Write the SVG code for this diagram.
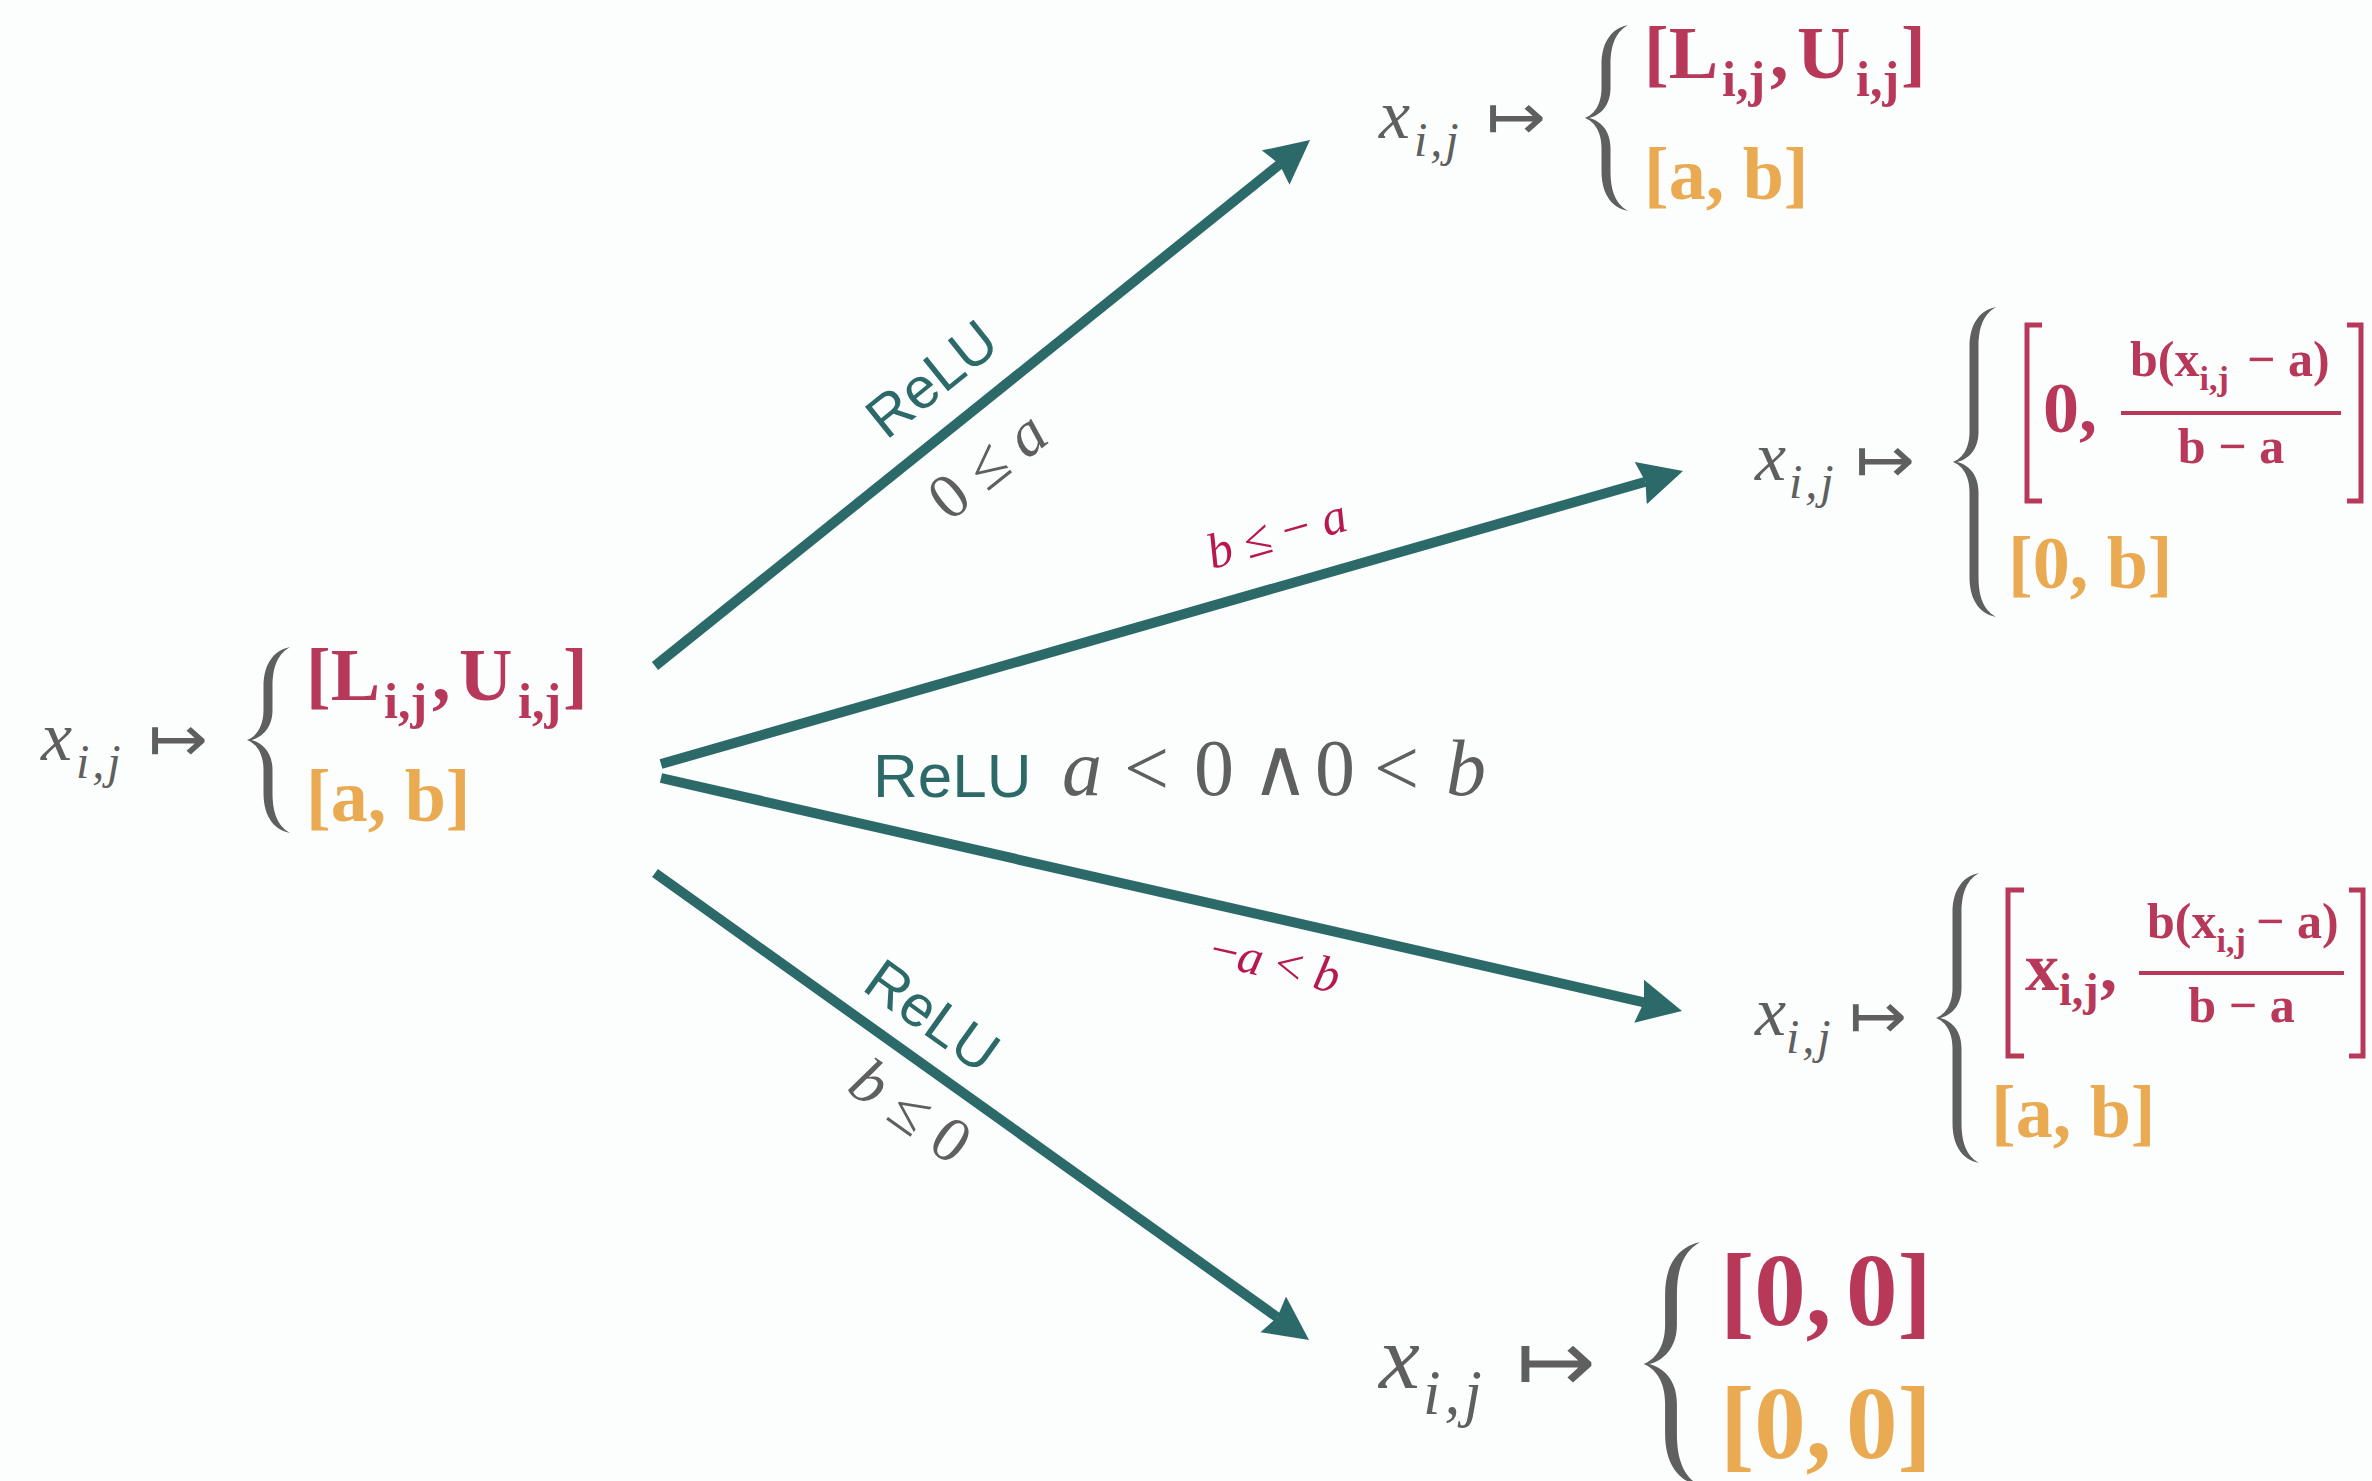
<svg xmlns="http://www.w3.org/2000/svg" width="2372" height="1481" viewBox="0 0 2372 1481">
<style>
.mi{font-family:"Liberation Serif","DejaVu Serif",serif;font-style:italic;fill:#5f5f5f}
.arr{font-family:"DejaVu Sans",sans-serif;fill:#5f5f5f}
.brace{fill:#5f5f5f}
.red{font-family:"Liberation Serif","DejaVu Serif",serif;font-weight:bold;fill:#b8385a}
.org{font-family:"Liberation Serif","DejaVu Serif",serif;font-weight:bold;fill:#eaaa52}
.bk{fill:none;stroke:#b8385a;stroke-width:5}
.frac{fill:#b8385a}
.relu{font-family:"Liberation Sans",Arial,sans-serif;fill:#2c6a69;text-anchor:middle}
.gl{font-family:"Liberation Serif","DejaVu Serif",serif;fill:#5f5f5f;text-anchor:middle}
.rl{font-family:"Liberation Serif","DejaVu Serif",serif;fill:#b8184c;text-anchor:middle}
.it{font-style:italic}
.conn{stroke:#2c6a69;stroke-width:10;fill:none}
</style>
<defs>
<marker id="ah" markerUnits="userSpaceOnUse" markerWidth="46" markerHeight="46" refX="5" refY="22" orient="auto">
<path d="M0,0 L44,22 L0,44 L5,22 Z" fill="#2c6a69"/>
</marker>
</defs>
<rect width="2372" height="1481" fill="#fcfefe"/>

<g id="connectors">
<line class="conn" x1="655" y1="666" x2="1279.6" y2="164.4" marker-end="url(#ah)"/>
<line class="conn" x1="661" y1="764" x2="1645.5" y2="481.7" marker-end="url(#ah)"/>
<line class="conn" x1="661" y1="778" x2="1644" y2="1002.3" marker-end="url(#ah)"/>
<line class="conn" x1="655" y1="873" x2="1277.3" y2="1317.3" marker-end="url(#ah)"/>
</g>

<g id="edge-labels">
<text class="relu" font-size="58" transform="translate(931,378) rotate(-38.76)" y="21">ReLU</text>
<text class="gl" font-size="64" transform="translate(988,466) rotate(-38.76)" y="20">0 ≤ <tspan class="it">a</tspan></text>
<text class="rl" font-size="50" transform="translate(1277,535) rotate(-16)" y="15"><tspan class="it">b</tspan> ≤ − <tspan class="it">a</tspan></text>
<text class="relu" font-size="62" x="873" y="797" text-anchor="start" style="text-anchor:start">ReLU</text>
<text class="gl" font-size="80" y="795" style="text-anchor:start"><tspan class="it" x="1062">a</tspan><tspan x="1124">&lt;</tspan><tspan x="1194">0</tspan><tspan x="1251">∧</tspan><tspan x="1315">0</tspan><tspan x="1374">&lt;</tspan><tspan class="it" x="1446">b</tspan></text>
<text class="rl" font-size="50" transform="translate(1275,964) rotate(12.9)" y="15">−<tspan class="it">a</tspan> &lt; <tspan class="it">b</tspan></text>
<text class="relu" font-size="58" transform="translate(933,1015) rotate(35.53)" y="21">ReLU</text>
<text class="gl" font-size="64" transform="translate(910,1112) rotate(35.53)" y="20"><tspan class="it">b</tspan> ≤ 0</text>
</g>

<g id="node-input">
<text class="mi" x="41" y="760" font-size="70">x</text>
<text class="mi" x="76" y="778" font-size="48" letter-spacing="3">i,j</text>
<text class="arr" x="148" y="761" font-size="64" textLength="60" lengthAdjust="spacingAndGlyphs">↦</text>
<path class="brace" transform="translate(268,740)" d="M22,-93 C8,-90 -4.5,-79 -4.5,-53 L-4.5,-30 C-4.5,-12 -13,-3 -21,0 C-13,3 -4.5,12 -4.5,30 L-4.5,53 C-4.5,79 8,90 22,93 C12,87 4.5,77 4.5,53 L4.5,30 C4.5,8 -11,1 -17,0 C-11,-1 4.5,-8 4.5,-30 L4.5,-53 C4.5,-77 12,-87 22,-93 Z"/>
<text class="red" font-size="74" x="306" y="700">[L<tspan x="384" y="718" font-size="50">i,j</tspan><tspan x="432" y="700">,</tspan><tspan x="459">U</tspan><tspan x="518" y="718" font-size="50">i,j</tspan><tspan x="563" y="700">]</tspan></text>
<text class="org" font-size="74" x="306" y="821">[a, b]</text>
</g>

<g id="node-relu-positive" transform="translate(1338,-622)">
<text class="mi" x="41" y="760" font-size="70">x</text>
<text class="mi" x="76" y="778" font-size="48" letter-spacing="3">i,j</text>
<text class="arr" x="148" y="761" font-size="64" textLength="60" lengthAdjust="spacingAndGlyphs">↦</text>
<path class="brace" transform="translate(268,740)" d="M22,-93 C8,-90 -4.5,-79 -4.5,-53 L-4.5,-30 C-4.5,-12 -13,-3 -21,0 C-13,3 -4.5,12 -4.5,30 L-4.5,53 C-4.5,79 8,90 22,93 C12,87 4.5,77 4.5,53 L4.5,30 C4.5,8 -11,1 -17,0 C-11,-1 4.5,-8 4.5,-30 L4.5,-53 C4.5,-77 12,-87 22,-93 Z"/>
<text class="red" font-size="74" x="306" y="700">[L<tspan x="384" y="718" font-size="50">i,j</tspan><tspan x="432" y="700">,</tspan><tspan x="459">U</tspan><tspan x="518" y="718" font-size="50">i,j</tspan><tspan x="563" y="700">]</tspan></text>
<text class="org" font-size="74" x="306" y="821">[a, b]</text>
</g>

<g id="node-relu-mixed-upper">
<text class="mi" x="1755" y="480" font-size="70">x</text>
<text class="mi" x="1789" y="498" font-size="48" letter-spacing="3">i,j</text>
<text class="arr" x="1855" y="482" font-size="64" textLength="60" lengthAdjust="spacingAndGlyphs">↦</text>
<path class="brace" transform="translate(1974,462)" d="M22,-155 C8,-152 -4.5,-141 -4.5,-115 L-4.5,-30 C-4.5,-12 -13,-3 -21,0 C-13,3 -4.5,12 -4.5,30 L-4.5,115 C-4.5,141 8,152 22,155 C12,149 4.5,139 4.5,115 L4.5,30 C4.5,8 -11,1 -17,0 C-11,-1 4.5,-8 4.5,-30 L4.5,-115 C4.5,-139 12,-149 22,-155 Z"/>
<path class="bk" d="M2042,325 H2027 V501 H2042"/>
<text class="red" x="2043" y="432" font-size="72">0,</text>
<text class="red" x="2130" y="376" font-size="50">b(x<tspan y="390" font-size="34">i,j</tspan><tspan x="2247" y="376">− a)</tspan></text>
<rect class="frac" x="2121" y="411" width="220" height="4"/>
<text class="red" x="2231" y="463" font-size="50" text-anchor="middle">b − a</text>
<path class="bk" d="M2347,325 H2361 V501 H2347"/>
<text class="org" x="2008" y="588" font-size="74">[0, b]</text>
</g>

<g id="node-relu-mixed-lower">
<text class="mi" x="1755" y="1035" font-size="70">x</text>
<text class="mi" x="1786" y="1053" font-size="48" letter-spacing="3">i,j</text>
<text class="arr" x="1849" y="1038" font-size="64" textLength="58" lengthAdjust="spacingAndGlyphs">↦</text>
<path class="brace" transform="translate(1957,1018)" d="M22,-145 C8,-142 -4.5,-131 -4.5,-105 L-4.5,-30 C-4.5,-12 -13,-3 -21,0 C-13,3 -4.5,12 -4.5,30 L-4.5,105 C-4.5,131 8,142 22,145 C12,139 4.5,129 4.5,105 L4.5,30 C4.5,8 -11,1 -17,0 C-11,-1 4.5,-8 4.5,-30 L4.5,-105 C4.5,-129 12,-139 22,-145 Z"/>
<path class="bk" d="M2024,890 H2008 V1056 H2024"/>
<text class="red" x="2025" y="990" font-size="68">x<tspan x="2059" y="1005" font-size="46">i,j</tspan><tspan x="2100" y="990">,</tspan></text>
<text class="red" x="2147" y="938" font-size="50">b(x<tspan y="952" font-size="34">i,j</tspan><tspan x="2256" y="938">− a)</tspan></text>
<rect class="frac" x="2139" y="971" width="205" height="4"/>
<text class="red" x="2241.5" y="1022" font-size="50" text-anchor="middle">b − a</text>
<path class="bk" d="M2349,890 H2363 V1056 H2349"/>
<text class="org" x="1991" y="1137" font-size="74">[a, b]</text>
</g>

<g id="node-relu-zero">
<text class="mi" x="1379" y="1388" font-size="92">x</text>
<text class="mi" x="1423" y="1414" font-size="63" letter-spacing="4">i,j</text>
<text class="arr" x="1516" y="1391" font-size="86" textLength="80" lengthAdjust="spacingAndGlyphs">↦</text>
<path class="brace" transform="translate(1671,1364) scale(1.31)" d="M22,-93 C8,-90 -4.5,-79 -4.5,-53 L-4.5,-30 C-4.5,-12 -13,-3 -21,0 C-13,3 -4.5,12 -4.5,30 L-4.5,53 C-4.5,79 8,90 22,93 C12,87 4.5,77 4.5,53 L4.5,30 C4.5,8 -11,1 -17,0 C-11,-1 4.5,-8 4.5,-30 L4.5,-53 C4.5,-77 12,-87 22,-93 Z"/>
<text class="red" x="1720" y="1325" font-size="103">[0,<tspan x="1846">0]</tspan></text>
<text class="org" x="1720" y="1458" font-size="103">[0,<tspan x="1846">0]</tspan></text>
</g>
</svg>
